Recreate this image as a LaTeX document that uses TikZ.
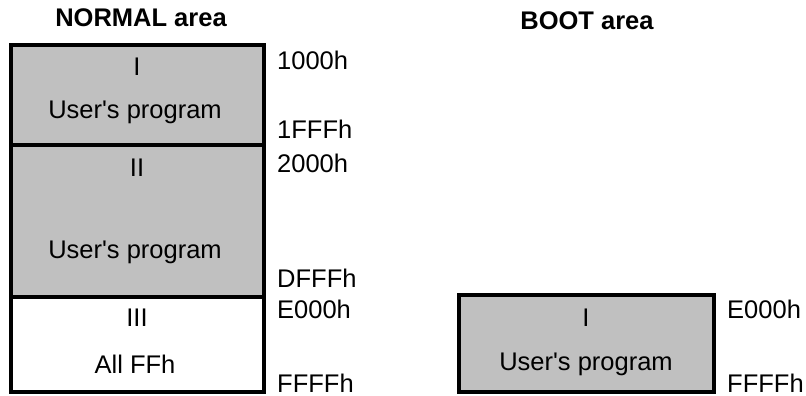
\documentclass[tikz,border=0pt]{standalone}
\usepackage{fontspec}
\setmainfont{Liberation Sans}
\begin{document}
\begin{tikzpicture}[x=1pt,y=-1pt,
  box/.style={draw=black,line width=4pt,fill=boxgray},
  blank/.style={draw=black,line width=4pt,fill=white},
  txt/.style={anchor=base,inner sep=0pt,font=\fontsize{25.5}{30}\selectfont},
  addr/.style={anchor=base west,inner sep=0pt,font=\fontsize{25.5}{30}\selectfont},
  head/.style={anchor=base,inner sep=0pt,font=\fontsize{25.5}{30}\selectfont\bfseries}]
\definecolor{boxgray}{HTML}{C0C0C0}
\useasboundingbox (0,0) rectangle (806,396);
% NORMAL area
\node[head] (hn) at (141,27) {NORMAL area};
\draw[box] (11,45) rectangle (264,145);
\draw[box] (11,145) rectangle (264,297);
\draw[blank] (11,297) rectangle (264,392);
\node[txt] (n1) at (137,76) {I};
\node[txt] (n1p) at (135,118) {User\textquotesingle s program};
\node[txt] (n2) at (137,176) {II};
\node[txt] (n2p) at (135,258) {User\textquotesingle s program};
\node[txt] (n3) at (137,326) {III};
\node[txt] (n3p) at (135,373) {All FFh};
\node[addr] (a1) at (277,70) {1000h};
\node[addr] (a2) at (277,138) {1FFFh};
\node[addr] (a3) at (277,172) {2000h};
\node[addr] (a4) at (277,287) {DFFFh};
\node[addr] (a5) at (277,318) {E000h};
\node[addr] (a6) at (277,392) {FFFFh};
% BOOT area
\node[head] (hb) at (587,30) {BOOT area};
\draw[box] (459,295) rectangle (714,392);
\node[txt] (b1) at (586,326) {I};
\node[txt] (b1p) at (586,370) {User\textquotesingle s program};
\node[addr] (b2) at (727,318) {E000h};
\node[addr] (b3) at (727,392) {FFFFh};
\end{tikzpicture}
\end{document}
